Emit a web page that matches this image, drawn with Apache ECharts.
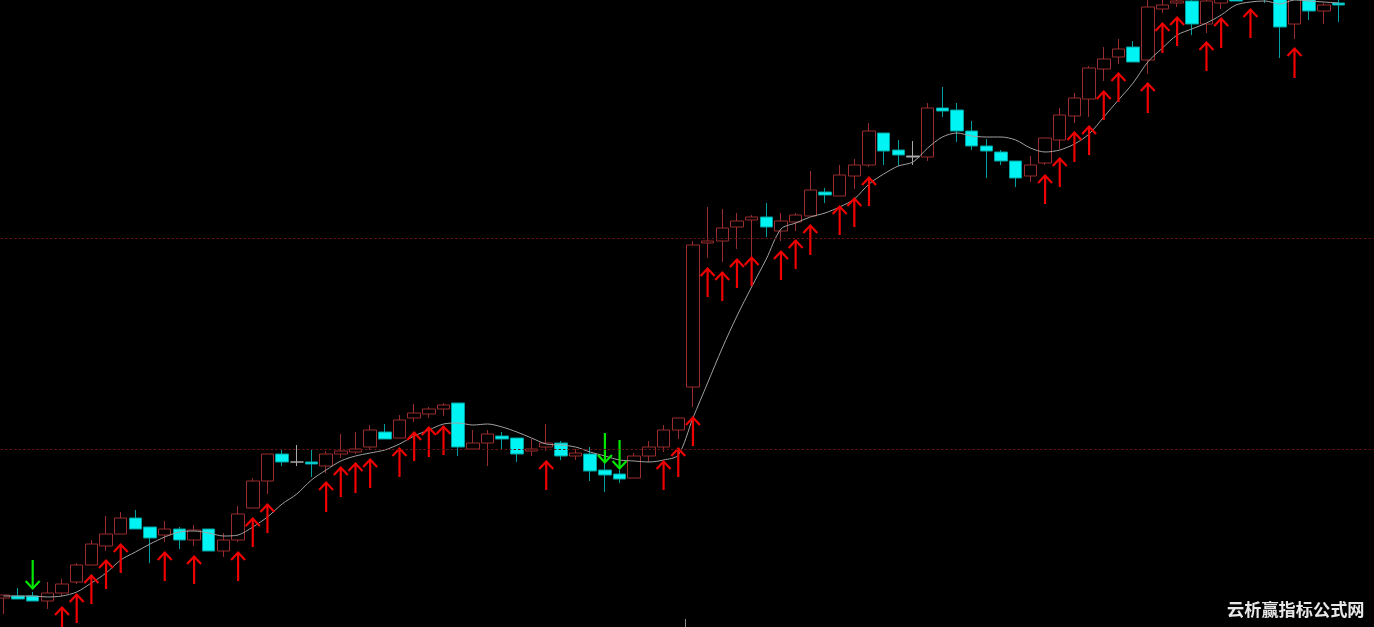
<!DOCTYPE html>
<html>
<head>
<meta charset="utf-8">
<style>
html,body{margin:0;padding:0;background:#000;overflow:hidden;}
#main{width:1380px;height:627px;margin-left:-4px;}
</style>
</head>
<body>
<div id="main"></div>
<script src="https://cdn.jsdelivr.net/npm/echarts@6/dist/echarts.min.js"></script>
<script>
// 开 收 低 高
const opens = [8.29,8.31,8.31,8.26,8.34,8.45,8.62,8.81,8.93,9.09,
  9.00,8.92,8.98,8.87,8.98,8.76,8.87,9.19,9.46,9.73,
  9.65,9.65,9.61,9.73,9.75,9.80,9.95,9.89,10.09,10.13,
  10.18,10.24,9.78,9.84,9.91,9.89,9.76,9.80,9.84,9.71,
  9.73,9.57,9.53,9.49,9.71,9.80,9.97,10.40,11.84,11.86,
  12.00,12.07,12.10,11.96,12.05,12.11,12.35,12.31,12.51,12.62,
  12.94,12.77,12.70,12.70,13.19,13.17,12.96,12.81,12.75,12.66,
  12.51,12.64,12.87,13.11,13.28,13.58,13.70,13.80,13.67,14.18,
  14.24,14.26,14.03,14.24,14.30,14.30,14.33,14.33,14.03,14.31,
  14.16,14.24];
const closes = [8.32,8.28,8.26,8.34,8.43,8.62,8.83,8.93,9.09,8.98,
  8.89,8.98,8.87,8.97,8.76,8.87,9.13,9.46,9.73,9.65,
  9.65,9.63,9.73,9.76,9.78,9.97,9.88,10.07,10.14,10.18,
  10.22,9.80,9.84,9.93,9.88,9.73,9.78,9.84,9.71,9.74,
  9.56,9.52,9.48,9.71,9.80,9.97,10.09,11.82,11.86,11.99,
  12.06,12.10,12.00,12.06,12.12,12.37,12.32,12.52,12.62,12.96,
  12.76,12.72,12.71,13.19,13.16,12.96,12.81,12.76,12.66,12.49,
  12.62,12.89,13.12,13.29,13.59,13.68,13.78,13.65,14.20,14.22,
  14.26,14.03,14.26,14.29,14.26,14.35,14.29,14.00,14.33,14.16,
  14.22,14.22];
const lows = [8.13,8.28,8.26,8.18,8.31,8.43,8.62,8.76,8.93,8.98,
  8.64,8.85,8.78,8.81,8.76,8.70,8.85,9.19,9.33,9.61,
  9.61,9.50,9.54,9.69,9.73,9.77,9.88,9.89,10.05,10.09,
  10.11,9.71,9.78,9.61,9.78,9.65,9.71,9.76,9.67,9.67,
  9.46,9.35,9.44,9.49,9.65,9.75,9.88,10.20,11.69,11.65,
  11.78,11.70,11.90,11.86,11.96,12.11,12.24,12.31,12.38,12.60,
  12.62,12.61,12.62,12.66,13.10,12.85,12.77,12.49,12.62,12.40,
  12.45,12.62,12.78,13.04,13.10,13.46,13.63,13.65,13.53,14.14,
  14.20,13.92,13.94,14.18,14.26,14.30,14.24,13.69,13.88,14.07,
  14.03,14.05];
const highs = [8.32,8.39,8.35,8.45,8.48,8.64,8.87,9.11,9.15,9.17,
  9.00,9.06,9.00,9.02,8.98,8.94,9.21,9.49,9.73,9.78,
  9.82,9.78,9.76,9.93,9.95,10.02,10.03,10.12,10.23,10.20,
  10.24,10.24,9.97,9.97,9.95,9.89,9.88,10.03,9.86,9.78,
  9.80,9.64,9.57,9.74,9.86,10.02,10.09,11.86,12.20,12.18,
  12.14,12.12,12.24,12.14,12.14,12.56,12.39,12.62,12.68,13.04,
  12.94,12.87,12.86,13.24,13.40,13.24,13.06,12.88,12.77,12.66,
  12.71,12.89,13.19,13.34,13.61,13.80,13.88,13.86,14.30,14.29,
  14.30,14.29,14.29,14.31,14.32,14.37,14.35,14.35,14.35,14.33,
  14.24,14.29];
// 均线
const maLine = [8.31,8.31,8.31,8.30,8.31,8.35,8.44,8.54,8.67,8.75,
  8.83,8.90,8.95,8.96,8.94,8.91,8.92,9.00,9.10,9.23,
  9.33,9.47,9.57,9.66,9.71,9.74,9.77,9.83,9.91,9.97,
  10.03,10.04,10.02,10.03,10.00,9.95,9.89,9.83,9.82,9.80,
  9.75,9.71,9.67,9.66,9.65,9.67,9.72,10.09,10.44,10.79,
  11.11,11.40,11.68,11.98,12.04,12.10,12.14,12.20,12.28,12.43,
  12.53,12.61,12.65,12.79,12.90,12.94,12.91,12.90,12.90,12.87,
  12.79,12.75,12.77,12.83,12.93,13.10,13.27,13.44,13.65,13.79,
  13.92,13.98,14.04,14.12,14.22,14.25,14.26,14.23,14.27,14.26,
  14.25,14.24];
// 红色向上箭头 第几根K线 箭头 箭尾
const upIndex = [4,5,6,7,8,11,13,16,17,18,22,23,24,25,27,28,29,30,37,45,46,47,48,49,50,51,53,54,55,57,58,59,71,72,73,74,75,76,78,79,80,82,83,85,88];
const upHead = [8.20,8.33,8.52,8.67,8.83,8.75,8.71,8.75,9.09,9.23,9.45,9.60,9.64,9.68,9.79,9.95,10.00,10.01,9.66,9.66,9.79,10.10,11.59,11.55,11.68,11.70,11.76,11.87,12.02,12.21,12.29,12.50,12.52,12.69,12.95,13.01,13.36,13.54,13.44,14.04,14.10,13.85,14.09,14.18,13.79];
const upTail = [7.98,8.04,8.23,8.38,8.54,8.46,8.43,8.46,8.80,8.94,9.15,9.30,9.34,9.39,9.50,9.66,9.70,9.72,9.37,9.37,9.50,9.81,11.30,11.26,11.39,11.41,11.47,11.58,11.72,11.92,12.00,12.21,12.23,12.40,12.65,12.72,13.07,13.25,13.14,13.74,13.81,13.56,13.79,13.89,13.49];
// 绿色向下箭头
const downIndex = [2,41,42];
const downHead = [8.38,9.64,9.58];
const downTail = [8.67,9.94,9.87];
// 两根虚线
const levels = [11.89,9.78];
const dojiIndex = [20,62];
const watermark = '云析赢指标公式网';

// 右边留两根空K线的位置，虚线才能画到头
const categories = opens.map((v,i)=>i).concat([92,93]);
const kData = opens.map((v,i)=>{
    const item = {value:[v,closes[i],lows[i],highs[i]]};
    if(dojiIndex.includes(i)){
        item.itemStyle = {color:'#a8a8a8',color0:'#a8a8a8',borderColor:'#a8a8a8',borderColor0:'#a8a8a8',borderColorDoji:'#a8a8a8'};
    }
    return item;
});

function renderArrow(color){
    return function(params,api){
        const x = api.coord([api.value(0),api.value(1)])[0];
        const head = api.coord([api.value(0),api.value(1)])[1];
        const tail = api.coord([api.value(0),api.value(2)])[1];
        const dir = tail>head ? 1 : -1;
        return {
            type:'group',
            children:[
                {type:'line',shape:{x1:x,y1:head,x2:x,y2:tail},style:{stroke:color,lineWidth:2.2,fill:'none'}},
                {type:'polyline',shape:{points:[[x-7,head+dir*8],[x,head+dir*0.5],[x+7,head+dir*8]]},style:{stroke:color,lineWidth:2.2,fill:'none'}}
            ]
        };
    };
}

const myChart = echarts.init(document.querySelector('#main'));
const option = {
    backgroundColor:'#000',
    animation:false,
    grid:{left:0,right:0.8,top:0,bottom:0},
    xAxis:{type:'category',data:categories,show:false,boundaryGap:true},
    yAxis:{type:'value',min:8,max:14.27,show:false,splitLine:{show:false}},
    graphic:[
        {type:'line',shape:{x1:689.5,y1:619,x2:689.5,y2:627},style:{stroke:'#8a8a8a',lineWidth:1}},
        {type:'text',left:1231,top:601,style:{text:watermark,fill:'#e8e8e8',font:'bold 17.2px "Noto Sans CJK SC"'}}
    ],
    series:[
        {
            type:'candlestick',
            data:kData,
            barWidth:13,
            itemStyle:{
                color:'rgba(0,0,0,0)',
                color0:'#00f4f4',
                borderColor:'#992c2c',
                borderColor0:'#00a0a0',
                borderWidth:1
            },
            z:2
        },
        {
            type:'line',
            data:maLine,
            smooth:0.3,
            showSymbol:false,
            lineStyle:{color:'#a0a0a0',width:1},
            z:3,
            markLine:{
                silent:true,
                symbol:'none',
                label:{show:false},
                lineStyle:{color:'#601212',type:[2.5,2],width:1},
                data:levels.map(v=>({yAxis:v}))
            }
        },
        {
            type:'custom',
            data:upIndex.map((v,i)=>[v,upHead[i],upTail[i]]),
            renderItem:renderArrow('#f00000'),
            encode:{x:0,y:[1,2]},
            z:4
        },
        {
            type:'custom',
            data:downIndex.map((v,i)=>[v,downHead[i],downTail[i]]),
            renderItem:renderArrow('#00e800'),
            encode:{x:0,y:[1,2]},
            z:4
        }
    ]
};
myChart.setOption(option);
</script>
</body>
</html>
